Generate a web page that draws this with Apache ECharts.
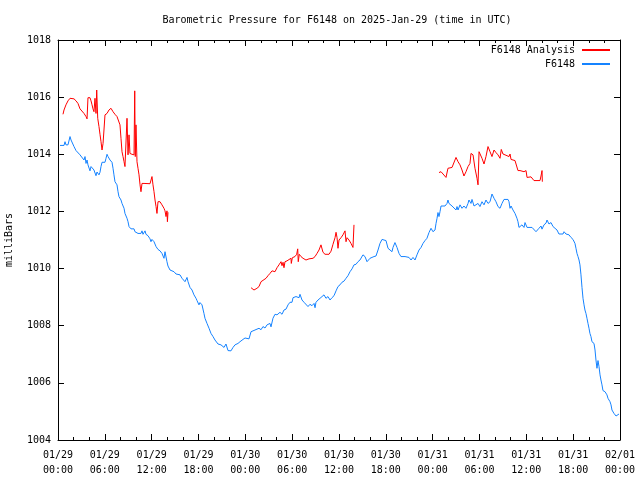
<!DOCTYPE html>
<html>
<head>
<meta charset="utf-8">
<script src="https://cdn.jsdelivr.net/npm/echarts@6/dist/echarts.min.js"></script>
<style>html,body{margin:0;padding:0;background:#fff}#c{width:640px;height:480px}</style>
</head>
<body>
<div id="c"></div>
<script>
// Hours since 2025-01-29 00:00 UTC, pressure in milliBars
const titleText = "Barometric Pressure for F6148 on 2025-Jan-29 (time in UTC)";
const yTicks = [1004, 1006, 1008, 1010, 1012, 1014, 1016, 1018];
const xTickHours = [0, 6, 12, 18, 24, 30, 36, 42, 48, 54, 60, 66, 72];
const xTickLabels = ["01/29\n00:00","01/29\n06:00","01/29\n12:00","01/29\n18:00","01/30\n00:00","01/30\n06:00","01/30\n12:00","01/30\n18:00","01/31\n00:00","01/31\n06:00","01/31\n12:00","01/31\n18:00","02/01\n00:00"];

const stationObs = [
[0.26,1014.31],[0.77,1014.31],[0.90,1014.44],[1.02,1014.33],[1.28,1014.33],[1.54,1014.62],[1.67,1014.50],[1.79,1014.44],[2.05,1014.27],[2.31,1014.13],[2.56,1014.09],[2.82,1013.98],[3.07,1013.92],[3.33,1013.80],[3.46,1013.92],[3.59,1013.68],[3.72,1013.80],[3.84,1013.63],[3.97,1013.68],[4.10,1013.42],[4.23,1013.57],[4.36,1013.50],[4.48,1013.63],[4.61,1013.45],[4.74,1013.38],[4.87,1013.25],[5.00,1013.38],[5.12,1013.33],[5.25,1013.28],[5.38,1013.37],[5.51,1013.57],[5.64,1013.72],[6.02,1013.72],[6.15,1013.86],[6.28,1014.00],[6.41,1013.92],[6.66,1013.80],[6.92,1013.72],[7.05,1013.51],[7.17,1013.28],[7.30,1013.04],[7.56,1012.93],[7.69,1012.69],[7.81,1012.52],[8.07,1012.40],[8.20,1012.28],[8.46,1012.11],[8.58,1011.93],[8.84,1011.76],[8.97,1011.64],[9.10,1011.47],[9.35,1011.39],[9.74,1011.39],[9.86,1011.29],[9.99,1011.35],[10.25,1011.23],[10.63,1011.23],[10.76,1011.32],[10.89,1011.20],[11.15,1011.32],[11.27,1011.20],[11.53,1011.15],[11.79,1011.04],[11.91,1010.94],[12.04,1011.02],[12.30,1010.94],[12.56,1010.77],[12.81,1010.67],[13.07,1010.62],[13.32,1010.53],[13.45,1010.48],[13.58,1010.36],[13.71,1010.59],[13.84,1010.59],[13.96,1010.24],[14.09,1010.09],[14.35,1009.95],[14.60,1009.89],[14.86,1009.89],[15.12,1009.81],[15.63,1009.78],[15.89,1009.66],[16.27,1009.54],[16.53,1009.69],[16.66,1009.54],[16.91,1009.34],[17.17,1009.25],[17.42,1009.08],[17.68,1008.96],[17.81,1008.88],[18.06,1008.73],[18.19,1008.81],[18.32,1008.88],[18.45,1008.73],[18.70,1008.43],[18.83,1008.26],[19.09,1008.08],[19.35,1007.91],[19.60,1007.73],[19.86,1007.62],[20.11,1007.50],[20.50,1007.36],[20.88,1007.33],[21.27,1007.24],[21.52,1007.36],[21.78,1007.13],[21.91,1007.20],[22.16,1007.12],[22.42,1007.24],[22.68,1007.33],[23.06,1007.38],[23.32,1007.44],[23.70,1007.52],[23.96,1007.57],[24.21,1007.52],[24.47,1007.54],[24.73,1007.79],[24.98,1007.72],[25.24,1007.85],[25.49,1007.80],[25.75,1007.91],[26.01,1007.86],[26.26,1007.97],[26.52,1007.92],[26.78,1008.03],[26.90,1007.98],[27.16,1008.08],[27.29,1007.96],[27.54,1008.26],[27.80,1008.40],[28.06,1008.38],[28.31,1008.36],[28.44,1008.47],[28.70,1008.40],[28.95,1008.55],[29.21,1008.58],[29.47,1008.73],[29.72,1008.82],[29.98,1008.82],[30.11,1008.98],[30.49,1009.02],[30.88,1008.98],[31.00,1009.10],[31.26,1008.90],[31.52,1008.82],[31.77,1008.75],[32.03,1008.67],[32.28,1008.75],[32.54,1008.70],[32.80,1008.78],[32.93,1008.63],[33.05,1008.82],[33.31,1008.90],[33.57,1008.96],[33.82,1009.00],[34.08,1009.08],[34.33,1008.96],[34.59,1009.02],[34.85,1008.90],[35.10,1008.98],[35.36,1009.05],[35.62,1009.22],[35.87,1009.37],[36.13,1009.43],[36.38,1009.52],[36.64,1009.56],[36.90,1009.66],[37.15,1009.75],[37.41,1009.89],[37.67,1009.99],[37.92,1010.13],[38.18,1010.15],[38.43,1010.24],[38.69,1010.30],[38.82,1010.30],[39.07,1010.48],[39.33,1010.42],[39.59,1010.24],[39.97,1010.36],[40.48,1010.42],[40.74,1010.44],[41.00,1010.65],[41.25,1010.88],[41.51,1011.02],[41.76,1011.09],[42.02,1010.98],[42.28,1010.71],[42.53,1010.67],[42.79,1010.59],[42.92,1010.74],[43.17,1010.91],[43.43,1010.74],[43.69,1010.53],[43.94,1010.42],[44.46,1010.42],[44.71,1010.36],[44.97,1010.39],[45.23,1010.30],[45.48,1010.39],[45.74,1010.30],[45.99,1010.48],[46.25,1010.65],[46.51,1010.74],[46.76,1010.88],[47.02,1010.98],[47.27,1011.06],[47.53,1011.26],[47.79,1011.41],[48.04,1011.29],[48.30,1011.35],[48.43,1011.58],[48.56,1011.76],[48.68,1011.96],[48.81,1011.82],[48.94,1011.99],[49.07,1012.19],[49.58,1012.19],[49.84,1012.28],[49.96,1012.40],[50.09,1012.28],[50.48,1012.19],[50.73,1012.23],[50.99,1012.05],[51.12,1012.17],[51.25,1012.05],[51.50,1012.23],[51.76,1012.11],[52.01,1012.19],[52.27,1012.11],[52.53,1012.28],[52.65,1012.40],[52.91,1012.28],[53.04,1012.42],[53.30,1012.19],[53.55,1012.17],[53.81,1012.28],[54.06,1012.17],[54.32,1012.34],[54.58,1012.23],[54.83,1012.40],[55.09,1012.28],[55.35,1012.34],[55.60,1012.61],[55.86,1012.46],[56.11,1012.34],[56.37,1012.17],[56.63,1012.11],[56.88,1012.28],[57.14,1012.42],[57.65,1012.42],[57.78,1012.34],[57.91,1012.11],[58.04,1012.19],[58.29,1012.05],[58.55,1011.93],[58.80,1011.76],[58.93,1011.64],[59.06,1011.44],[59.19,1011.44],[59.44,1011.53],[59.70,1011.44],[59.83,1011.61],[59.96,1011.61],[60.09,1011.44],[60.21,1011.44],[60.34,1011.41],[60.73,1011.44],[60.98,1011.41],[61.24,1011.29],[61.37,1011.23],[61.62,1011.41],[61.88,1011.49],[62.01,1011.38],[62.26,1011.53],[62.52,1011.59],[62.65,1011.70],[62.90,1011.56],[63.16,1011.61],[63.42,1011.47],[63.67,1011.49],[63.93,1011.35],[64.18,1011.21],[64.70,1011.21],[64.83,1011.29],[65.08,1011.21],[65.47,1011.18],[65.72,1011.09],[65.98,1011.02],[66.11,1011.00],[66.23,1010.88],[66.36,1010.71],[66.49,1010.53],[66.62,1010.42],[66.75,1010.30],[66.87,1010.13],[67.00,1009.78],[67.13,1009.34],[67.26,1008.96],[67.39,1008.73],[67.51,1008.55],[67.64,1008.43],[67.77,1008.26],[67.90,1008.08],[68.03,1007.91],[68.15,1007.73],[68.28,1007.62],[68.41,1007.44],[68.67,1007.38],[68.80,1007.15],[68.92,1006.80],[69.05,1006.51],[69.18,1006.78],[69.31,1006.57],[69.44,1006.28],[69.56,1006.10],[69.69,1005.93],[69.82,1005.73],[70.08,1005.69],[70.33,1005.58],[70.46,1005.46],[70.72,1005.34],[70.85,1005.23],[70.97,1005.05],[71.23,1004.93],[71.49,1004.84],[71.62,1004.79],[71.74,1004.88],[71.87,1004.91]
];

const analysisRun1 = [
[0.64,1015.40],[0.77,1015.55],[1.02,1015.73],[1.28,1015.87],[1.54,1015.96],[1.79,1016.01],[2.05,1015.94],[2.31,1015.87],[2.56,1015.78],[2.82,1015.59],[3.07,1015.55],[3.33,1015.43],[3.59,1015.32],[3.72,1015.24],[3.84,1015.98],[4.10,1015.98],[4.23,1015.87],[4.36,1015.73],[4.48,1015.59],[4.61,1015.49],[4.74,1015.96],[4.87,1015.43],[4.96,1016.25],[5.09,1015.26],[5.25,1014.97],[5.38,1014.70],[5.51,1014.44],[5.64,1014.15],[5.77,1014.38],[5.89,1014.85],[6.02,1015.38],[6.28,1015.43],[6.53,1015.55],[6.79,1015.61],[7.05,1015.49],[7.30,1015.40],[7.56,1015.32],[7.81,1015.26],[7.94,1015.03],[8.07,1014.56],[8.20,1014.09],[8.33,1013.92],[8.46,1013.74],[8.58,1013.57],[8.71,1013.51],[8.84,1015.26],[8.97,1013.98],[9.10,1014.68],[9.22,1014.03],[9.48,1014.00],[9.74,1013.98],[9.83,1016.22],[9.90,1013.92],[9.99,1015.03],[10.12,1013.74],[10.25,1013.51],[10.38,1013.28],[10.51,1012.93],[10.63,1012.69],[10.76,1012.98],[11.02,1012.98],[11.27,1012.97],[11.79,1012.97],[11.91,1013.04],[12.04,1013.22],[12.17,1012.93],[12.30,1012.69],[12.43,1012.40],[12.56,1012.17],[12.68,1011.93],[12.81,1012.34],[13.07,1012.34],[13.32,1012.23],[13.58,1012.11],[13.71,1012.02],[13.84,1011.82],[13.96,1012.02],[14.02,1011.64],[14.09,1011.97]
];
const analysisRun2 = [
[24.73,1009.33],[24.85,1009.29],[25.11,1009.25],[25.49,1009.31],[25.75,1009.37],[26.01,1009.54],[26.26,1009.59],[26.65,1009.66],[26.90,1009.75],[27.16,1009.83],[27.42,1009.92],[27.67,1009.99],[27.80,1009.89],[28.06,1010.03],[28.31,1010.13],[28.57,1010.24],[28.70,1010.10],[28.83,1010.22],[28.95,1010.03],[29.08,1010.24],[29.34,1010.27],[29.59,1010.34],[29.85,1010.36],[29.89,1010.18],[30.02,1010.38],[30.36,1010.42],[30.58,1010.50],[30.71,1010.69],[30.78,1010.24],[30.91,1010.50],[31.13,1010.42],[31.39,1010.36],[31.77,1010.30],[32.16,1010.34],[32.41,1010.38],[32.67,1010.36],[32.93,1010.42],[33.18,1010.53],[33.44,1010.65],[33.69,1010.83],[33.95,1010.57],[34.21,1010.50],[34.72,1010.50],[34.98,1010.61],[35.23,1010.85],[35.49,1011.08],[35.62,1011.27],[35.75,1011.08],[35.87,1010.71],[36.00,1011.00],[36.26,1011.08],[36.51,1011.18],[36.77,1011.32],[36.90,1010.94],[37.03,1011.08],[37.28,1011.00],[37.54,1010.88],[37.79,1010.74],[37.92,1011.53]
];
const analysisRun3 = [
[48.81,1013.36],[49.07,1013.39],[49.32,1013.33],[49.71,1013.19],[49.96,1013.51],[50.48,1013.54],[50.73,1013.57],[50.99,1013.89],[51.25,1013.74],[51.50,1013.63],[51.76,1013.45],[52.01,1013.24],[52.27,1013.39],[52.53,1013.57],[52.78,1013.68],[52.91,1014.03],[53.17,1013.98],[53.42,1013.51],[53.68,1013.16],[53.81,1012.93],[53.94,1014.09],[54.06,1014.06],[54.32,1013.86],[54.58,1013.66],[54.83,1013.92],[55.09,1014.27],[55.35,1014.09],[55.60,1013.92],[55.86,1014.15],[56.11,1014.06],[56.37,1013.98],[56.63,1013.86],[56.79,1014.17],[57.01,1014.01],[57.27,1013.98],[57.52,1013.94],[57.78,1013.92],[57.91,1014.01],[58.04,1013.82],[58.29,1013.82],[58.55,1013.78],[58.80,1013.78],[58.93,1013.43],[59.19,1013.43],[59.44,1013.45],[59.70,1013.39],[59.83,1013.33],[59.96,1013.43],[60.09,1013.19],[60.34,1013.19],[60.60,1013.21],[60.85,1013.19],[60.98,1013.08],[61.24,1013.08],[61.49,1013.12],[61.75,1013.08],[61.88,1013.24],[62.01,1013.43],[62.05,1013.04]
];

const analysisData = [].concat(analysisRun1, [[19, '-']], analysisRun2, [[43, '-']], analysisRun3);

const FONT = 'DejaVu Sans Mono';
const chart = echarts.init(document.getElementById('c'), null, {renderer: 'canvas'});
const labelFor = v => { const i = xTickHours.indexOf(Math.round(v)); return i >= 0 ? xTickLabels[i] : ''; };
const commonX = {
  type: 'value', min: 0, max: 72, interval: 6,
  splitLine: {show: false},
  axisLine: {show: true, onZero: false, lineStyle: {color: '#000', width: 1}},
  axisTick: {show: true, inside: true, length: 6, lineStyle: {color: '#000'}},
  minorTick: {show: true, splitNumber: 3, length: 3, lineStyle: {color: '#000'}}
};
const commonY = {
  type: 'value', min: 1004, max: 1018, interval: 2,
  splitLine: {show: false},
  axisLine: {show: true, onZero: false, lineStyle: {color: '#000', width: 1}},
  axisTick: {show: true, inside: true, length: 6, lineStyle: {color: '#000'}}
};
chart.setOption({
  animation: false,
  backgroundColor: '#fff',
  title: {
    text: titleText, left: 332, top: 10, textAlign: 'center',
    textStyle: {fontFamily: FONT, fontSize: 10, fontWeight: 'normal', color: '#000'}
  },
  legend: {
    right: 25, top: 40, orient: 'vertical', align: 'right',
    itemWidth: 28, itemHeight: 2, itemGap: 4, icon: 'rect',
    textStyle: {fontFamily: FONT, fontSize: 10, color: '#000', padding: [0, 2, 0, 0]},
    data: ['F6148 Analysis', 'F6148']
  },
  grid: {left: 58, right: 20, top: 40, bottom: 40, containLabel: false, outerBoundsMode: 'none'},
  xAxis: [
    Object.assign({}, commonX, {
      position: 'bottom',
      axisLabel: {show: true, margin: 8, lineHeight: 15, fontFamily: FONT, fontSize: 10, color: '#000',
        showMinLabel: true, showMaxLabel: true, hideOverlap: false, formatter: labelFor}
    }),
    Object.assign({}, commonX, {position: 'top', axisLabel: {show: false}})
  ],
  yAxis: [
    Object.assign({}, commonY, {
      position: 'left',
      name: 'milliBars', nameLocation: 'middle', nameGap: 44, nameRotate: 90,
      nameTextStyle: {fontFamily: FONT, fontSize: 10, color: '#000'},
      axisLabel: {show: true, margin: 7, fontFamily: FONT, fontSize: 10, color: '#000',
        formatter: v => (yTicks.indexOf(v) >= 0 ? String(v) : '')}
    }),
    Object.assign({}, commonY, {position: 'right', axisLabel: {show: false}})
  ],
  series: [
    {
      name: 'F6148 Analysis', type: 'line', data: analysisData, showSymbol: false, symbol: 'none',
      connectNulls: false, color: '#ff0000', lineStyle: {width: 1, color: '#ff0000'}
    },
    {
      name: 'F6148', type: 'line', data: stationObs, showSymbol: false, symbol: 'none',
      color: '#1583ff', lineStyle: {width: 1, color: '#1583ff'}
    }
  ]
});
</script>
</body>
</html>
